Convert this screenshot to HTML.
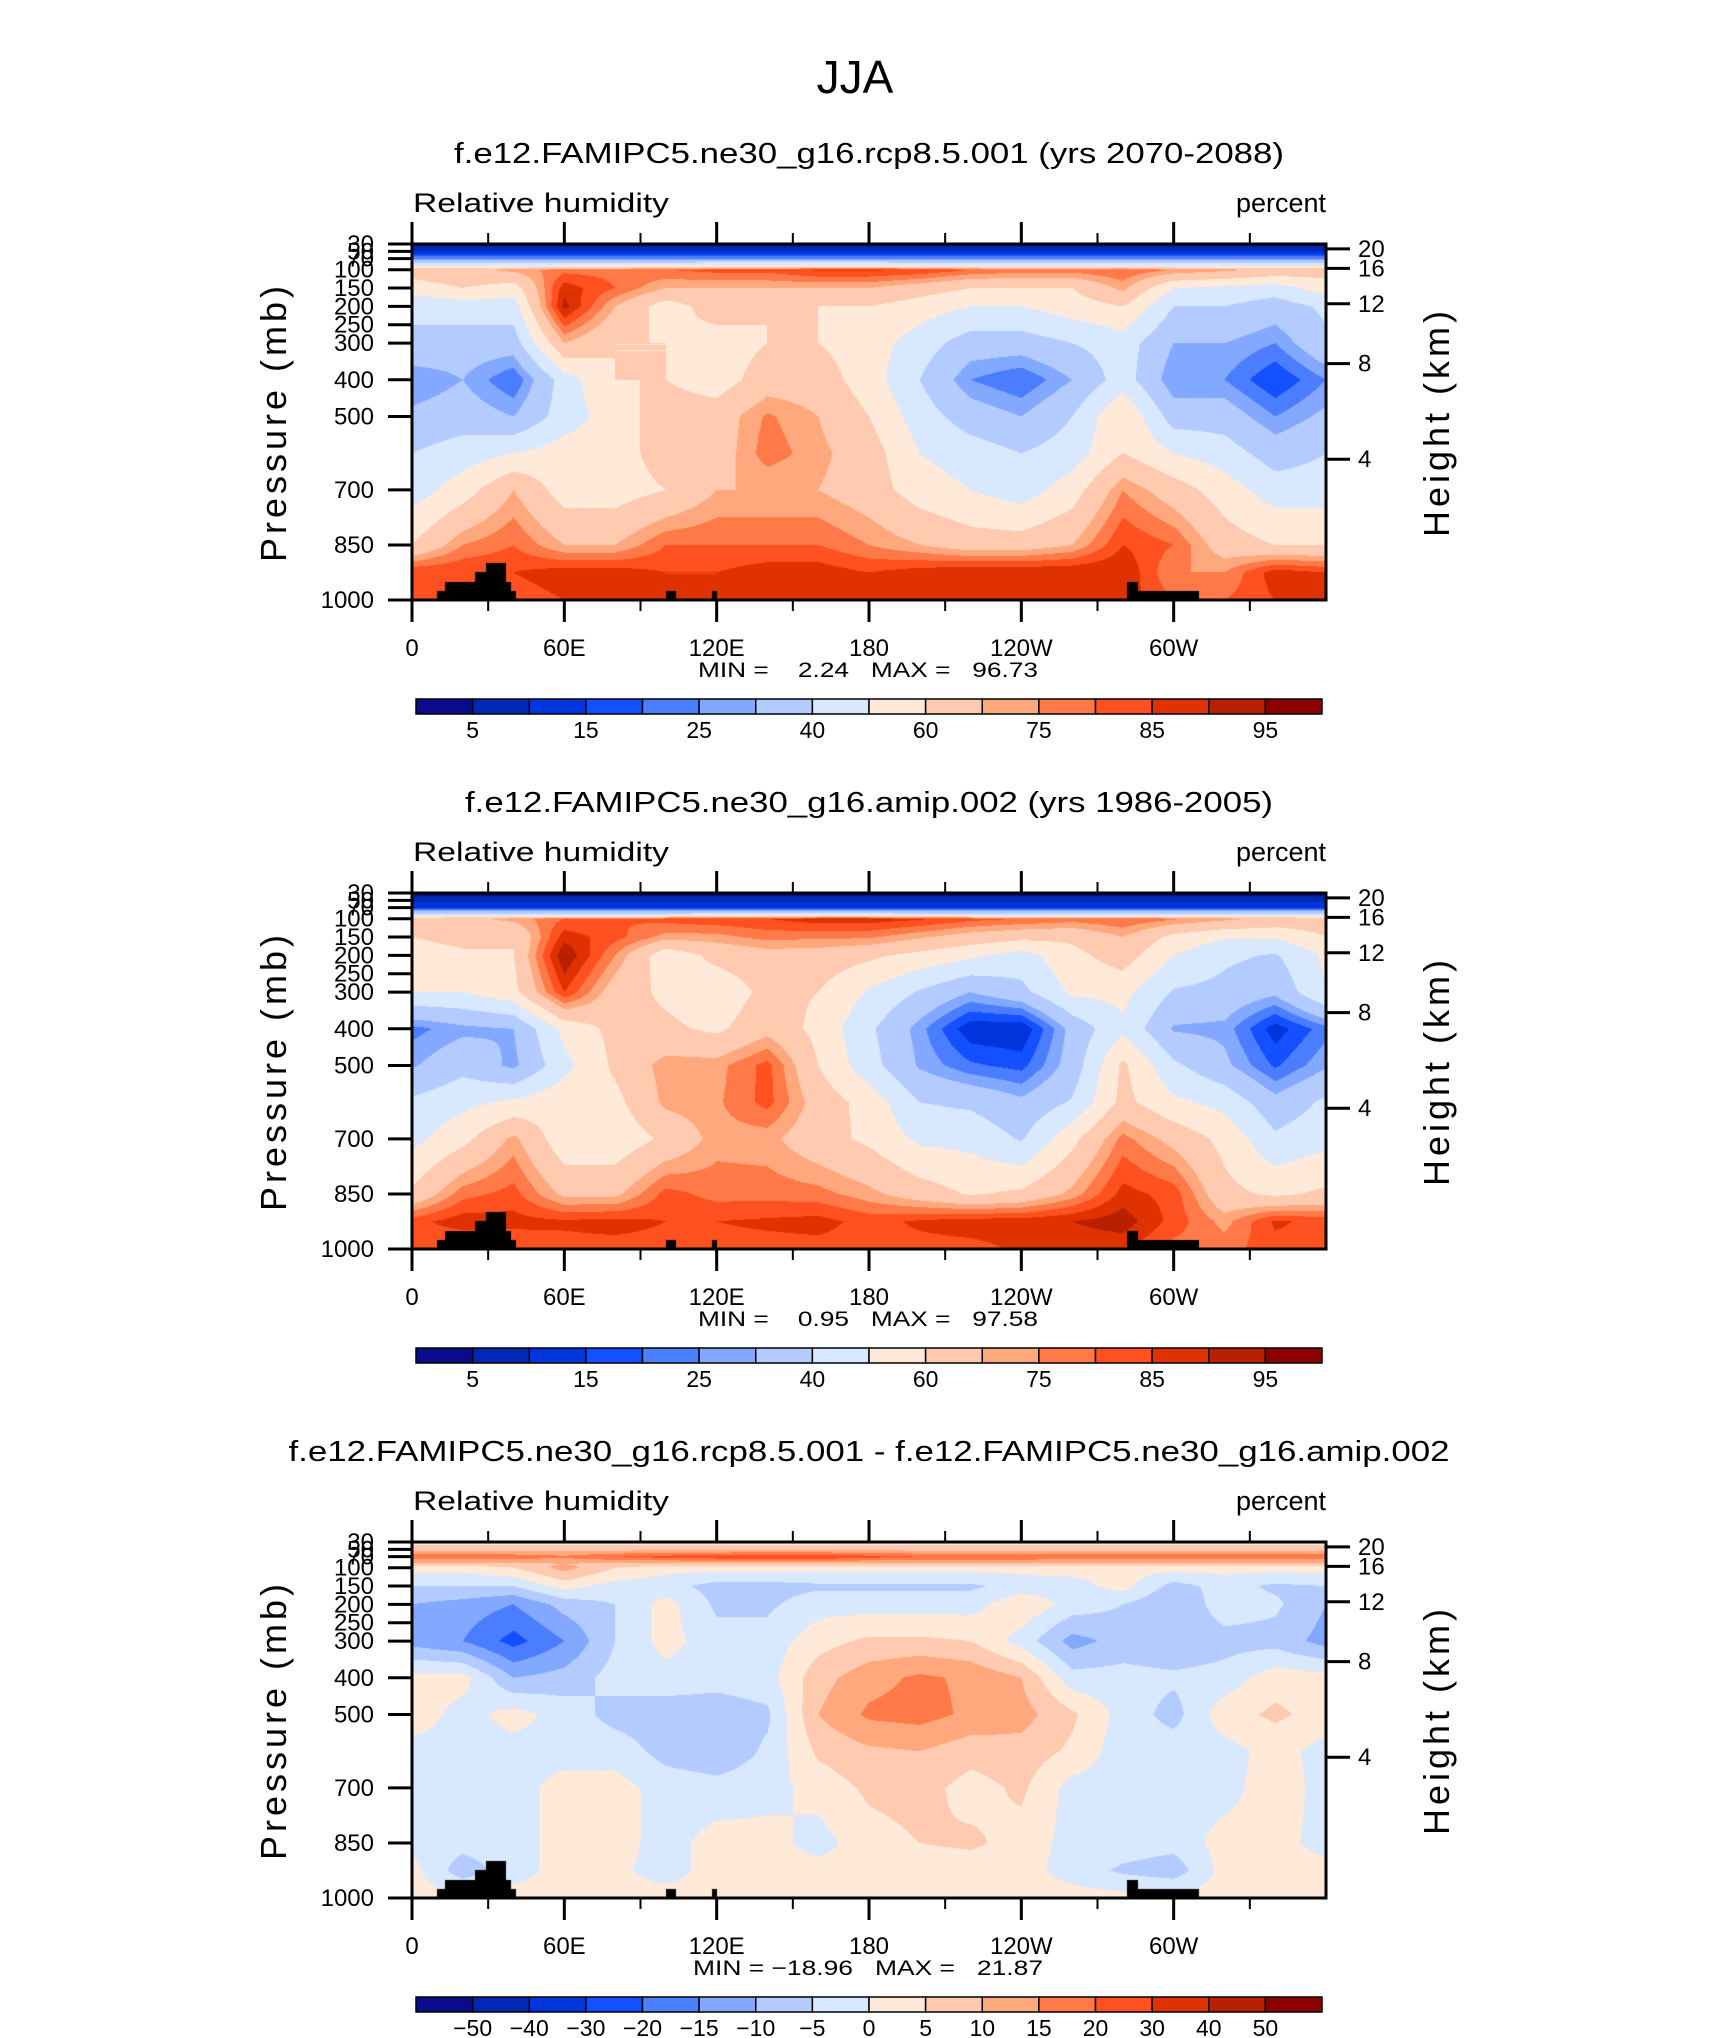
<!DOCTYPE html>
<html><head><meta charset="utf-8">
<style>
html,body{margin:0;padding:0;background:#fff;}
#root{position:relative;width:1710px;height:2038px;overflow:hidden;background:#fff;}
canvas{position:absolute;}
svg{position:absolute;left:0;top:0;}
text{font-family:"Liberation Sans",sans-serif;fill:#000;}
</style></head>
<body>
<div id="root">
<canvas id="c0" width="914" height="356"></canvas>
<canvas id="c1" width="914" height="356"></canvas>
<canvas id="c2" width="914" height="356"></canvas>
<svg id="ov" width="1710" height="2038"></svg>
</div>
<script>
// ---------- data ----------
const lons = [0,20,40,60,80,100,120,140,160,180,200,220,240,260,280,300,320,340,360];
const pressures = [30,50,70,90,100,150,200,300,400,500,600,700,850,925,1000];
const rhLevels = [5,10,15,20,25,30,40,50,60,70,75,80,85,90,95];
const diffLevels = [-50,-40,-30,-20,-15,-10,-5,0,5,10,15,20,30,40,50];
const palette = ["#0a0a8c","#0028b4","#0034dc","#1450ff","#4b7eff","#82a8ff","#b4cbff","#d7e8ff","#ffe9d8","#ffcab0","#ffa87e","#ff7a48","#ff5020","#e03200","#b82000","#8c0000"];
const pressureTicks = [30,50,70,100,150,200,250,300,400,500,700,850,1000];
const heightTicks = [4,8,12,16,20];
const lonMajor = [0,60,120,180,240,300];
const lonMajorLabels = ["0","60E","120E","180","120W","60W"];
const lonMinor = [30,90,150,210,270,330];
const topoStart = [10,13,25,29,37,39,100,118,281.5,286];
const topoEnd   = [13,25,29,37,39,41,104,120,286,310];
const topoTop   = [975,950,925,900,950,975,975,975,950,975];

const rhFuture = [
[3,3,3,3,3,3,3,3,3,3,3,3,3,3,3,3,3,3,3],
[10,10,10,10,10,10,10,10,10,10,10,10,10,10,10,10,10,10,10],
[25,25,25,25,25,25,25,25,25,25,25,25,25,25,25,25,25,25,25],
[50,50,50,52,52,52,55,55,55,55,52,50,50,50,50,50,50,50,50],
[65,68,72,78,78,80,82,82,86,86,85,80,78,78,80,75,72,68,65],
[55,60,55,88,80,70,70,70,70,70,65,60,60,60,72,50,48,45,55],
[42,45,45,92,70,55,65,60,60,60,55,50,50,55,60,40,40,35,42],
[38,35,35,70,60,60,55,60,60,55,45,35,35,40,45,30,30,25,38],
[25,30,20,45,60,60,55,65,65,55,40,25,20,30,45,25,25,15,25],
[32,35,30,45,55,65,65,76,70,60,45,35,30,40,60,35,35,25,32],
[40,45,50,55,55,65,65,78,72,65,50,45,40,45,60,50,45,35,40],
[45,55,70,55,55,60,70,70,70,65,55,50,45,55,75,65,55,45,45],
[60,75,80,70,70,80,80,80,80,75,70,65,65,70,85,80,65,60,60],
[85,85,85,88,88,85,85,88,88,85,88,90,90,90,90,75,75,88,85],
[85,80,82,85,85,85,85,85,85,85,85,85,88,88,88,80,80,85,85]];

const rhPast = [
[3,3,3,3,3,3,3,3,3,3,3,3,3,3,3,3,3,3,3],
[8,8,8,8,8,8,8,8,8,8,8,8,8,8,8,8,8,8,8],
[15,15,15,15,15,15,15,15,15,15,15,15,15,15,15,15,15,15,15],
[45,45,45,45,45,45,48,48,48,48,45,45,45,45,45,45,45,45,45],
[66,68,72,80,80,82,84,85,88,88,86,82,80,78,80,76,72,68,66],
[60,65,60,88,82,73,73,77,76,76,71,66,63,62,70,57,51,51,60],
[52,57,60,95,75,53,63,66,66,62,57,52,46,57,65,50,42,39,52],
[50,50,57,85,65,58,53,63,60,49,39,30,37,52,53,39,37,32,50],
[23,28,30,53,63,62,58,67,57,42,27,11,10,33,48,29,28,12,23],
[29,37,28,47,62,73,73,82,60,44,29,21,18,34,62,42,32,19,29],
[42,47,52,57,57,72,74,82,66,56,40,38,32,41,63,52,47,33,42],
[47,57,72,53,53,62,73,72,64,58,48,47,39,57,77,67,57,42,47],
[62,78,82,68,68,82,78,78,77,72,65,59,62,72,87,83,63,58,62],
[83,88,87,86,87,85,85,86,87,83,86,88,88,90,93,83,73,86,83],
[83,78,80,83,83,83,83,83,83,83,83,83,86,86,86,78,78,83,83]];

const rhDiff = [
[3,3,3,3,3,3,3,3,3,3,3,3,3,3,3,3,3,3,3],
[8,8,8,8,8,8,8,8,8,8,8,8,8,8,8,8,8,8,8],
[18,18,18,16,20,22,24,25,25,22,20,20,20,18,18,18,18,18,18],
[8,8,8,10,8,8,8,8,8,8,8,8,8,8,8,8,8,8,8],
[2,2,5,12,5,2,2,2,2,2,2,2,2,2,2,2,2,2,2],
[-5,-5,-5,2,-2,-3,-7,-7,-6,-6,-6,-6,-3,-2,2,-7,-3,-6,-5],
[-10,-12,-15,-8,-5,2,-6,-6,-2,-2,-2,-2,4,-2,-5,-10,-2,-4,-10],
[-12,-15,-22,-15,-5,2,-3,-3,3,6,6,5,-2,-12,-8,-9,-7,-7,-12],
[2,2,-10,-8,-3,-2,-3,-2,8,13,16,14,10,-3,-3,-4,-3,3,2],
[3,-2,2,-2,-7,-8,-8,-6,10,16,17,14,12,6,-2,-7,3,6,3],
[-2,-2,-2,-2,-2,-7,-9,-4,6,9,10,7,8,4,-3,-2,-2,2,-2],
[-2,-2,-2,2,2,-2,-3,-2,2,6,7,3,6,-2,-2,-2,-2,3,-2],
[-2,-3,-2,2,2,-2,2,2,-2,3,5,6,3,-2,-2,-3,2,2,-2],
[2,-8,-2,2,1,-2,2,2,2,2,2,2,2,-2,-6,-8,2,2,2],
[2,2,2,2,2,2,2,2,2,2,2,2,2,2,2,2,2,2,2]];

// ---------- layout ----------
const PL=412, PR=1326, PT=244, PB=600, PW=PR-PL, PH=PB-PT;
const panelOffsets=[0,649,1298];
const panelTitles=["f.e12.FAMIPC5.ne30_g16.rcp8.5.001 (yrs 2070-2088)","f.e12.FAMIPC5.ne30_g16.amip.002 (yrs 1986-2005)","f.e12.FAMIPC5.ne30_g16.rcp8.5.001 - f.e12.FAMIPC5.ne30_g16.amip.002"];
const titleLens=[830,808,1161];
const minMaxText=["MIN =    2.24   MAX =   96.73","MIN =    0.95   MAX =   97.58","MIN = \u221218.96   MAX =   21.87"];
const minMaxLens=[340,340,350];
const grids=[rhFuture,rhPast,rhDiff];
const levelSets=[rhLevels,rhLevels,diffLevels];
const labelEvery=[2,2,1];

function xOfLon(l){return PL+l/360*PW;}
function yOfP(p,off){return PT+off+(p-30)/970*PH;}
function pOfKm(z){return 1013.25*Math.pow(1-2.2558e-5*z*1000,5.2559);}
function hexRgb(h){return [parseInt(h.substr(1,2),16),parseInt(h.substr(3,2),16),parseInt(h.substr(5,2),16)];}
const palRgb=palette.map(hexRgb);

function sample(grid,lon,p){
  let fi=lon/20; let i0=Math.min(Math.floor(fi),lons.length-2); let tx=fi-i0;
  let k=0; while(k<pressures.length-2 && p>pressures[k+1]) k++;
  let ty=(p-pressures[k])/(pressures[k+1]-pressures[k]); ty=Math.max(0,Math.min(1,ty));
  const a=grid[k][i0],b=grid[k][i0+1],c=grid[k+1][i0],d=grid[k+1][i0+1];
  return (a*(1-tx)+b*tx)*(1-ty)+(c*(1-tx)+d*tx)*ty;
}
function colorIdx(v,lev){let i=0; while(i<lev.length && v>=lev[i]) i++; return i;}

for(let n=0;n<3;n++){
  const cv=document.getElementById('c'+n);
  cv.style.left=PL+'px'; cv.style.top=(PT+panelOffsets[n])+'px';
  const ctx=cv.getContext('2d'); const img=ctx.createImageData(PW,PH);
  for(let j=0;j<PH;j++){
    const p=30+(j+0.5)/PH*970;
    for(let i=0;i<PW;i++){
      const lon=(i+0.5)/PW*360;
      let rgb;
      let topo=false;
      for(let t=0;t<topoStart.length;t++){ if(lon>=topoStart[t]&&lon<topoEnd[t]&&p>=topoTop[t]){topo=true;break;} }
      if(topo) rgb=[0,0,0]; else rgb=palRgb[colorIdx(sample(grids[n],lon,p),levelSets[n])];
      const o=(j*PW+i)*4; img.data[o]=rgb[0]; img.data[o+1]=rgb[1]; img.data[o+2]=rgb[2]; img.data[o+3]=255;
    }
  }
  ctx.putImageData(img,0,0);
}

// ---------- overlay ----------
const NS="http://www.w3.org/2000/svg";
const svg=document.getElementById('ov');
function mk(tag,attrs,parent){const e=document.createElementNS(NS,tag); for(const k in attrs) e.setAttribute(k,attrs[k]); (parent||svg).appendChild(e); return e;}

let e=mk('text',{x:855,y:93,'font-size':46,'text-anchor':'middle','font-weight':'normal'});


e.textContent='JJA';

for(let n=0;n<3;n++){
  const off=panelOffsets[n];
  const g=mk('g',{});
  
  
  let t=mk('text',{x:869,y:163+off,'font-size':29,'text-anchor':'middle',textLength:titleLens[n],lengthAdjust:'spacingAndGlyphs'},g);
  
  
  t.textContent=panelTitles[n];
  t=mk('text',{x:PL+1,y:212+off,'font-size':27,textLength:256,lengthAdjust:'spacingAndGlyphs'},g);
  
  
  t.textContent='Relative humidity';
  t=mk('text',{x:PR,y:212+off,'font-size':27,'text-anchor':'end'},g);
  
  
  t.textContent='percent';
  let r=mk('rect',{x:PL,y:PT+off,width:PW,height:PH,fill:'none',stroke:'#000','stroke-width':3},g);
  
  
  lonMajor.forEach((l,i)=>{
    const x=xOfLon(l);
    let ln=mk('line',{x1:x,x2:x,y1:PT+off-22,y2:PT+off,stroke:'#000','stroke-width':3},g);
    
    
    ln=mk('line',{x1:x,x2:x,y1:PB+off,y2:PB+off+22,stroke:'#000','stroke-width':3},g);
    
    
    const tx=mk('text',{x:x,y:PB+off,'font-size':24,'text-anchor':'middle',dy:56},g);
    
    
    tx.textContent=lonMajorLabels[i];
  });
  lonMinor.forEach(l=>{
    const x=xOfLon(l);
    let ln=mk('line',{x1:x,x2:x,y1:PT+off-11,y2:PT+off,stroke:'#000','stroke-width':2},g);
    
    
    ln=mk('line',{x1:x,x2:x,y1:PB+off,y2:PB+off+11,stroke:'#000','stroke-width':2},g);
    
    
  });
  pressureTicks.forEach(p=>{
    const y=yOfP(p,off);
    const ln=mk('line',{x1:PL-24,x2:PL,y1:y,y2:y,stroke:'#000','stroke-width':3},g);
    
    
    const tx=mk('text',{x:374,y:y+8,'font-size':24,'text-anchor':'end'},g);
    
    
    tx.textContent=String(p);
  });
  heightTicks.forEach(z=>{
    const y=yOfP(pOfKm(z),off);
    const ln=mk('line',{x1:PR,x2:PR+24,y1:y,y2:y,stroke:'#000','stroke-width':3},g);
    
    
    const tx=mk('text',{x:PR+32,y:y+8,'font-size':24},g);
    
    
    tx.textContent=String(z);
  });
  t=mk('text',{x:0,y:0,'font-size':36,'text-anchor':'middle','letter-spacing':'4',transform:'translate(286,'+(422+off)+') rotate(-90)'},g);
  
  
  t.textContent='Pressure (mb)';
  t=mk('text',{x:0,y:0,'font-size':36,'text-anchor':'middle','letter-spacing':'4',transform:'translate(1449,'+(422+off)+') rotate(-90)'},g);
  
  
  t.textContent='Height (km)';
  t=mk('text',{x:868,y:677+off,'font-size':21,'text-anchor':'middle',textLength:minMaxLens[n],lengthAdjust:'spacingAndGlyphs'},g);
  
  
  t.style.whiteSpace='pre';
  t.textContent=minMaxText[n];
  const cbL=416, cbR=1322, cbT=699+off, cbH=15, bw=(cbR-cbL)/palette.length;
  const cb=mk('g',{},g);
  
  
  palette.forEach((c,i)=>{
    const b=mk('rect',{x:cbL+i*bw,y:cbT,width:bw,height:cbH,fill:c,stroke:'#000','stroke-width':1.5},cb);
    
    
  });
  const lev=levelSets[n];
  lev.forEach((v,k)=>{
    if((k%labelEvery[n])!==0) return;
    const lb=mk('text',{x:cbL+(k+1)*bw,y:cbT+cbH+24,'font-size':23,'text-anchor':'middle'},cb);
    
    
    lb.textContent=(v<0?'\u2212'+Math.abs(v):String(v));
  });
}
</script>
</body></html>
